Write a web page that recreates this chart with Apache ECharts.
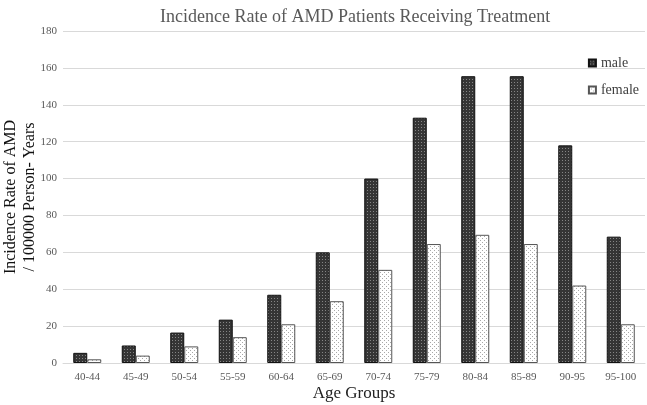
<!DOCTYPE html>
<html>
<head>
<meta charset="utf-8">
<script src="https://cdn.jsdelivr.net/npm/echarts@6/dist/echarts.min.js"></script>
<style>
  html, body { margin: 0; padding: 0; background: #fff; }
  #container { width: 647px; height: 405px; }
</style>
</head>
<body>
<div id="container"></div>
<script>
  // data
  var ageGroups = ['40-44', '45-49', '50-54', '55-59', '60-64', '65-69', '70-74', '75-79', '80-84', '85-89', '90-95', '95-100'];
  var maleRate = [5.5, 9.5, 16.5, 23.5, 37, 60, 100, 133, 155.5, 155.5, 118, 68.5];
  var femaleRate = [2, 4, 9, 14, 21, 33.5, 50.5, 64.5, 69.5, 64.5, 42, 21];

  var serif = '"Liberation Serif", "DejaVu Serif", serif';

  // little tile patterns like the excel fills
  function makeTile(size, bg, dot, dots){
    var c = document.createElement('canvas');
    c.width = size; c.height = size;
    var ctx = c.getContext('2d');
    ctx.fillStyle = bg;
    ctx.fillRect(0, 0, size, size);
    ctx.fillStyle = dot;
    for (var i = 0; i < dots.length; i++) {
      ctx.fillRect(dots[i][0], dots[i][1], 1, 1);
    }
    return c;
  }
  var maleTile = makeTile(3, '#353535', '#858585', [[1, 1]]);
  var femaleTile = makeTile(4, '#ffffff', '#a8a8a8', [[0, 0], [2, 2]]);

  var myChart = echarts.init(document.getElementById('container'));
  var option = {
    animation: false,
    backgroundColor: '#fff',
    textStyle: { fontFamily: serif },
    title: {
      text: 'Incidence Rate of AMD Patients Receiving Treatment',
      left: 155,
      top: 3,
      textStyle: { fontFamily: serif, fontSize: 18, fontWeight: 'normal', color: '#595959' }
    },
    legend: {
      orient: 'vertical',
      right: 3,
      top: 51,
      icon: 'rect',
      itemWidth: 7,
      itemHeight: 7,
      itemGap: 13,
      textStyle: { fontFamily: serif, fontSize: 14, color: '#404040' },
      data: ['male', 'female']
    },
    grid: {
      left: 63,
      right: 2,
      top: 31,
      bottom: 42,
      outerBoundsMode: 'none'
    },
    xAxis: {
      type: 'category',
      data: ageGroups,
      name: 'Age Groups',
      nameLocation: 'middle',
      nameGap: 22,
      nameMoveOverlap: false,
      nameTextStyle: { fontFamily: serif, fontSize: 17, color: '#222' },
      axisLine: { lineStyle: { color: '#d9d9d9' } },
      axisTick: { show: false },
      axisLabel: { fontFamily: serif, fontSize: 11, color: '#595959', margin: 9 }
    },
    yAxis: {
      type: 'value',
      min: 0,
      max: 180,
      interval: 20,
      name: 'Incidence Rate of AMD\n/ 100000 Person- Years',
      nameLocation: 'middle',
      nameGap: 24,
      nameMoveOverlap: false,
      nameTextStyle: { fontFamily: serif, fontSize: 16, color: '#111', lineHeight: 19 },
      axisLine: { show: false },
      axisTick: { show: false },
      axisLabel: { fontFamily: serif, fontSize: 11, color: '#595959', margin: 6 },
      splitLine: { lineStyle: { color: '#d9d9d9' } }
    },
    series: [{
      name: 'male',
      type: 'bar',
      data: maleRate,
      barWidth: 14,
      barGap: '0%',
      itemStyle: {
        color: { image: maleTile, repeat: 'repeat' },
        borderColor: '#111',
        borderWidth: 1
      }
    }, {
      name: 'female',
      type: 'bar',
      data: femaleRate,
      barWidth: 14,
      itemStyle: {
        color: { image: femaleTile, repeat: 'repeat' },
        borderColor: '#555',
        borderWidth: 1
      }
    }]
  };
  // 使用刚指定的配置项和数据显示图表。
  myChart.setOption(option);
</script>
</body>
</html>
